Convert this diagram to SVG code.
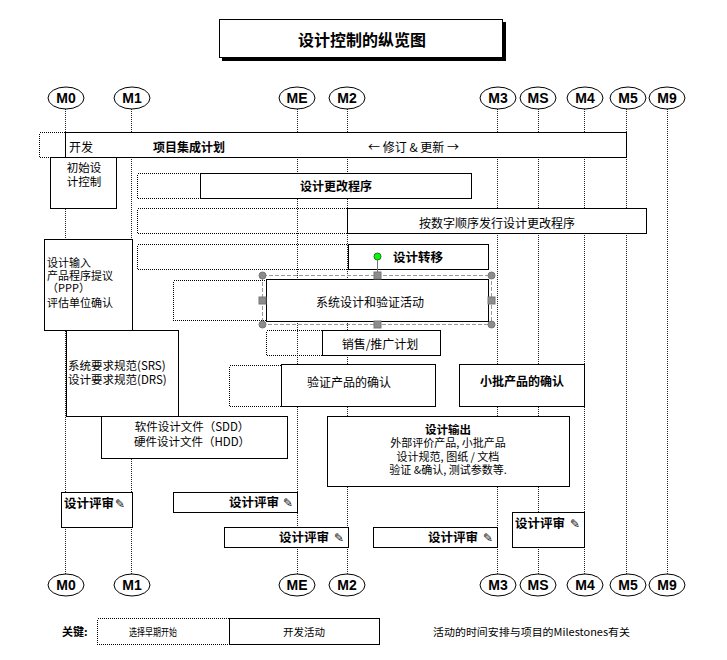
<svg xmlns="http://www.w3.org/2000/svg" width="727" height="660" viewBox="0 0 727 660">
<style>
text{font-family:"Noto Sans CJK SC","Liberation Sans",sans-serif;font-size:12px;fill:#000}
.b{font-weight:bold}
.m{text-anchor:middle}
.s{font-size:11.5px}
.ms{font-family:"Liberation Sans",Arial,sans-serif;font-weight:bold;font-size:14px;text-anchor:middle}
.ic{font-family:"DejaVu Sans",sans-serif;font-size:12px}
.vl{stroke:#222;stroke-width:1;stroke-dasharray:1 1;fill:none;shape-rendering:crispEdges}
.box{fill:#fff;stroke:#000;stroke-width:1;shape-rendering:crispEdges}
.dot{fill:none;stroke:#000;stroke-width:1;stroke-dasharray:1 1;shape-rendering:crispEdges}
.ell{fill:#fff;stroke:#000;stroke-width:1}
.sel{fill:none;stroke:#999;stroke-width:1;stroke-dasharray:4 2;shape-rendering:crispEdges}
.hc{fill:#8c8c8c;stroke:#777}
.hs{fill:#8c8c8c;stroke:#777}
</style>
<rect width="727" height="660" fill="#fff"/>

<g id="title">
<rect x="222" y="22" width="284" height="39" fill="#000"/>
<rect x="219.5" y="19.5" width="283" height="38" class="box"/>
<text x="362" y="46" class="b m" style="font-size:16px">设计控制的纵览图</text>
</g>

<g id="connectors">
<line x1="65.5" y1="109" x2="65.5" y2="575" class="vl"/>
<line x1="131.5" y1="109" x2="131.5" y2="575" class="vl"/>
<line x1="297.5" y1="109" x2="297.5" y2="575" class="vl"/>
<line x1="347.5" y1="109" x2="347.5" y2="575" class="vl"/>
<line x1="497.5" y1="109" x2="497.5" y2="575" class="vl"/>
<line x1="538.5" y1="109" x2="538.5" y2="575" class="vl"/>
<line x1="584.5" y1="109" x2="584.5" y2="575" class="vl"/>
<line x1="626.5" y1="109" x2="626.5" y2="575" class="vl"/>
<line x1="667.5" y1="109" x2="667.5" y2="575" class="vl"/>
</g>

<g id="milestones-top">
<g id="m0-top"><ellipse cx="66" cy="98" rx="18" ry="11" class="ell"/><text x="66" y="103" class="ms">M0</text></g>
<g id="m1-top"><ellipse cx="132" cy="98" rx="18" ry="11" class="ell"/><text x="132" y="103" class="ms">M1</text></g>
<g id="me-top"><ellipse cx="297" cy="98" rx="18" ry="11" class="ell"/><text x="297" y="103" class="ms">ME</text></g>
<g id="m2-top"><ellipse cx="347" cy="98" rx="18" ry="11" class="ell"/><text x="347" y="103" class="ms">M2</text></g>
<g id="m3-top"><ellipse cx="498" cy="98" rx="18" ry="11" class="ell"/><text x="498" y="103" class="ms">M3</text></g>
<g id="ms-top"><ellipse cx="538" cy="98" rx="18" ry="11" class="ell"/><text x="538" y="103" class="ms">MS</text></g>
<g id="m4-top"><ellipse cx="585" cy="98" rx="18" ry="11" class="ell"/><text x="585" y="103" class="ms">M4</text></g>
<g id="m5-top"><ellipse cx="628" cy="98" rx="18" ry="11" class="ell"/><text x="628" y="103" class="ms">M5</text></g>
<g id="m9-top"><ellipse cx="667" cy="98" rx="18" ry="11" class="ell"/><text x="667" y="103" class="ms">M9</text></g>
</g>

<g id="milestones-bottom">
<g id="m0-bot"><ellipse cx="66" cy="585" rx="18" ry="11" class="ell"/><text x="66" y="590" class="ms">M0</text></g>
<g id="m1-bot"><ellipse cx="132" cy="585" rx="18" ry="11" class="ell"/><text x="132" y="590" class="ms">M1</text></g>
<g id="me-bot"><ellipse cx="297" cy="585" rx="18" ry="11" class="ell"/><text x="297" y="590" class="ms">ME</text></g>
<g id="m2-bot"><ellipse cx="347" cy="585" rx="18" ry="11" class="ell"/><text x="347" y="590" class="ms">M2</text></g>
<g id="m3-bot"><ellipse cx="498" cy="585" rx="18" ry="11" class="ell"/><text x="498" y="590" class="ms">M3</text></g>
<g id="ms-bot"><ellipse cx="538" cy="585" rx="18" ry="11" class="ell"/><text x="538" y="590" class="ms">MS</text></g>
<g id="m4-bot"><ellipse cx="585" cy="585" rx="18" ry="11" class="ell"/><text x="585" y="590" class="ms">M4</text></g>
<g id="m5-bot"><ellipse cx="628" cy="585" rx="18" ry="11" class="ell"/><text x="628" y="590" class="ms">M5</text></g>
<g id="m9-bot"><ellipse cx="667" cy="585" rx="18" ry="11" class="ell"/><text x="667" y="590" class="ms">M9</text></g>
</g>

<g id="kaifa">
<rect x="39.5" y="132.5" width="26" height="25" class="dot"/>
<rect x="65.5" y="132.5" width="561" height="25" class="box"/>
<text x="69" y="152">开发</text>
<text x="153" y="152" class="b">项目集成计划</text>
<text x="368" y="152">← 修订 &amp; 更新 →</text>
</g>

<g id="initial-control">
<rect x="50.5" y="157.5" width="66" height="51" class="box"/>
<text x="84" y="172" class="m s">初始设</text>
<text x="84" y="186" class="m s">计控制</text>
</g>

<g id="change-proc">
<rect x="137.5" y="173.5" width="63" height="25" class="dot"/>
<rect x="200.5" y="173.5" width="271" height="25" class="box"/>
<text x="336" y="191" class="b m">设计更改程序</text>
</g>

<g id="release-proc">
<rect x="137.5" y="208.5" width="210" height="25" class="dot"/>
<rect x="347.5" y="208.5" width="299" height="25" class="box"/>
<text x="497" y="228" class="m">按数字顺序发行设计更改程序</text>
</g>

<g id="design-input">
<rect x="44.5" y="239.5" width="88" height="91" class="box"/>
<text x="47" y="267" style="font-size:11px">设计输入</text>
<text x="47" y="280" style="font-size:11px">产品程序提议</text>
<text x="47" y="292" style="font-size:11px">（PPP）</text>
<text x="47" y="307" style="font-size:11px">评估单位确认</text>
</g>

<g id="design-transfer">
<rect x="137.5" y="244.5" width="211" height="25" class="dot"/>
<rect x="348.5" y="244.5" width="140" height="25" class="box"/>
<text x="393" y="262" class="b" style="font-size:12.5px">设计转移</text>
</g>

<g id="sys-design">
<rect x="173.5" y="280.5" width="93" height="40" class="dot"/>
<rect x="266.5" y="279.5" width="222" height="42" class="box"/>
<text x="370" y="307" class="m">系统设计和验证活动</text>
</g>

<g id="selection">
<rect x="262.5" y="275.5" width="229" height="49" class="sel"/>
<line x1="377.5" y1="256" x2="377.5" y2="275" stroke="#777" stroke-width="1"/>
<circle cx="377.5" cy="256.5" r="3.5" fill="#00ff00" stroke="#2a6a2a" stroke-width="1"/>
<circle cx="262.5" cy="275.5" r="3.5" class="hc"/>
<circle cx="491.5" cy="275.5" r="3.5" class="hc"/>
<circle cx="262.5" cy="324.5" r="3.5" class="hc"/>
<circle cx="491.5" cy="324.5" r="3.5" class="hc"/>
<rect x="374" y="272" width="7" height="7" class="hs"/>
<rect x="374" y="321" width="7" height="7" class="hs"/>
<rect x="259" y="297" width="7" height="7" class="hs"/>
<rect x="488" y="297" width="7" height="7" class="hs"/>
</g>

<g id="sales-plan">
<rect x="266.5" y="330.5" width="56" height="25" class="dot"/>
<rect x="322.5" y="330.5" width="118" height="25" class="box"/>
<text x="380" y="349" class="m">销售/推广计划</text>
</g>

<g id="srs">
<rect x="66.5" y="330.5" width="112" height="86" class="box"/>
<text x="68" y="370" class="s">系统要求规范(SRS)</text>
<text x="68" y="384" class="s">设计要求规范(DRS)</text>
</g>

<g id="verify-product">
<rect x="229.5" y="365.5" width="52" height="41" class="dot"/>
<rect x="281.5" y="364.5" width="154" height="42" class="box"/>
<text x="307" y="387">验证产品的确认</text>
</g>

<g id="small-batch">
<rect x="459.5" y="364.5" width="125" height="42" class="box"/>
<text x="522" y="386" class="b m">小批产品的确认</text>
</g>

<g id="sdd">
<rect x="101.5" y="416.5" width="186" height="42" class="box"/>
<text x="192" y="431" class="m s">软件设计文件（SDD）</text>
<text x="192" y="446" class="m s">硬件设计文件（HDD）</text>
</g>

<g id="design-output">
<rect x="327.5" y="416.5" width="242" height="70" class="box"/>
<text x="448" y="434" class="b m" style="font-size:11.5px">设计输出</text>
<text x="448" y="447" class="m" style="font-size:11px">外部评价产品, 小批产品</text>
<text x="448" y="461" class="m" style="font-size:11px">设计规范, 图纸 / 文档</text>
<text x="448" y="474" class="m" style="font-size:11px">验证 &amp;确认, 测试参数等.</text>
</g>

<g id="review1">
<rect x="61.5" y="492.5" width="71" height="35" class="box"/>
<text x="64" y="508" class="b" style="font-size:12.5px">设计评审</text><text x="115" y="508" class="ic">✎</text>
</g>
<g id="review2">
<rect x="173.5" y="492.5" width="124" height="20" class="box"/>
<text x="229" y="507" class="b" style="font-size:12.5px">设计评审</text><text x="283" y="507" class="ic">✎</text>
</g>
<g id="review3">
<rect x="224.5" y="527.5" width="124" height="20" class="box"/>
<text x="279" y="542" class="b" style="font-size:12.5px">设计评审</text><text x="334" y="542" class="ic">✎</text>
</g>
<g id="review4">
<rect x="373.5" y="527.5" width="124" height="20" class="box"/>
<text x="428" y="542" class="b" style="font-size:12.5px">设计评审</text><text x="483" y="542" class="ic">✎</text>
</g>
<g id="review5">
<rect x="512.5" y="512.5" width="72" height="35" class="box"/>
<text x="515" y="528" class="b" style="font-size:12.5px">设计评审</text><text x="570" y="528" class="ic">✎</text>
</g>

<g id="legend">
<text x="62" y="636" class="b" style="font-size:11px">关键:</text>
<rect x="97.5" y="618.5" width="132" height="26" class="dot"/>
<text x="153" y="636" class="m" style="font-size:10px" textLength="48" lengthAdjust="spacingAndGlyphs">选择早期开始</text>
<rect x="229.5" y="618.5" width="150" height="26" class="box"/>
<text x="304" y="636" class="m" style="font-size:10.5px">开发活动</text>
<text x="433" y="636" style="font-size:10px" textLength="197" lengthAdjust="spacingAndGlyphs">活动的时间安排与项目的Milestones有关</text>
</g>
</svg>
